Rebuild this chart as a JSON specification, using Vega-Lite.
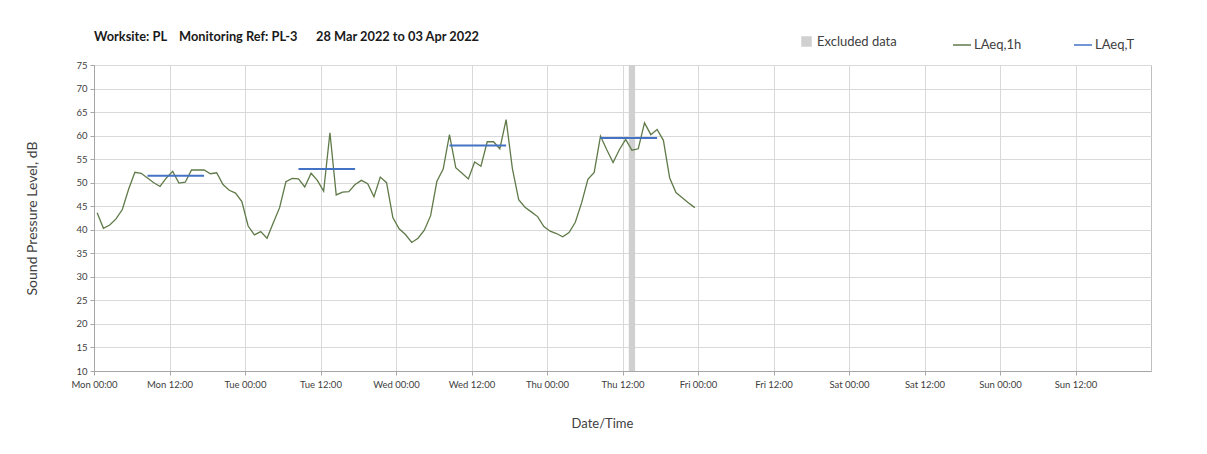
{
  "$schema": "https://vega.github.io/schema/vega-lite/v6.json",
  "width": 1057,
  "height": 306,
  "autosize": "none",
  "padding": {"left": 94, "top": 65, "right": 56, "bottom": 83},
  "background": "white",
  "title": {
    "text": "Worksite: PL\u00a0\u00a0\u00a0\u00a0Monitoring Ref: PL-3\u00a0\u00a0\u00a0\u00a0\u00a0\u00a028 Mar 2022 to 03 Apr 2022",
    "anchor": "start",
    "frame": "group",
    "font": "Lato",
    "fontSize": 12.8,
    "fontWeight": "bold",
    "color": "#1a1a1a",
    "offset": 22,
    "dy": 31
  },
  "config": {
    "view": {"stroke": "#bfbfbf", "strokeWidth": 1},
    "font": "Lato",
    "axis": {
      "labelFont": "Lato",
      "labelFontSize": 9.5,
      "labelColor": "#404040",
      "titleFont": "Lato",
      "titleFontWeight": "normal",
      "titleColor": "#404040",
      "gridColor": "#d9d9d9",
      "gridWidth": 1,
      "domainColor": "#a6a6a6",
      "tickColor": "#a6a6a6",
      "tickSize": 4
    },
    "legend": {
      "labelFont": "Lato",
      "labelFontSize": 13,
      "labelColor": "#404040"
    }
  },
  "encoding": {
    "x": {
      "field": "t", "type": "temporal",
      "scale": {"type": "utc", "domain": [1648425600000, 1649030400000]},
      "axis": {
        "title": "Date/Time",
        "titleFontSize": 13,
        "titlePadding": 29,
        "titleX": 508,
        "values": [1648425600000, 1648468800000, 1648512000000, 1648555200000, 1648598400000, 1648641600000, 1648684800000, 1648728000000, 1648771200000, 1648814400000, 1648857600000, 1648900800000, 1648944000000, 1648987200000],
        "labelExpr": "utcFormat(datum.value, '%a %H:%M')",
        "labelFlush": false,
        "labelPadding": 4,
        "grid": true
      }
    },
    "y": {
      "field": "v", "type": "quantitative",
      "scale": {"domain": [10, 75], "nice": false, "zero": false},
      "axis": {
        "title": "Sound Pressure Level, dB",
        "titleFontSize": 14,
        "titlePadding": 36,
        "values": [10, 15, 20, 25, 30, 35, 40, 45, 50, 55, 60, 65, 70, 75],
        "labelPadding": 3,
        "grid": true
      }
    }
  },
  "layer": [
    {
      "data": {"values": [{"t": "2022-03-31T13:00:00Z", "end": "2022-03-31T14:00:00Z", "top": 75, "bottom": 10}]},
      "mark": {"type": "rect", "opacity": 1},
      "encoding": {
        "x2": {"field": "end"},
        "y": {"field": "top", "type": "quantitative"},
        "y2": {"field": "bottom"},
        "fill": {
          "datum": "Excluded data",
          "scale": {"domain": ["Excluded data"], "range": ["#d0d0d0"]},
          "legend": {
            "title": null,
            "orient": "none",
            "direction": "horizontal",
            "legendX": 706,
            "legendY": -30,
            "symbolType": "square",
            "symbolSize": 110,
            "symbolOpacity": 1,
            "symbolStrokeWidth": 0,
            "labelOffset": 4
          }
        }
      }
    },
    {
      "data": {"values": [
        {"t": "2022-03-28T00:30:00Z", "v": 43.6},
        {"t": "2022-03-28T01:30:00Z", "v": 40.3},
        {"t": "2022-03-28T02:30:00Z", "v": 41.0},
        {"t": "2022-03-28T03:30:00Z", "v": 42.3},
        {"t": "2022-03-28T04:30:00Z", "v": 44.3},
        {"t": "2022-03-28T05:30:00Z", "v": 48.6},
        {"t": "2022-03-28T06:30:00Z", "v": 52.2},
        {"t": "2022-03-28T07:30:00Z", "v": 52.0},
        {"t": "2022-03-28T08:30:00Z", "v": 51.0},
        {"t": "2022-03-28T09:30:00Z", "v": 50.0},
        {"t": "2022-03-28T10:30:00Z", "v": 49.2},
        {"t": "2022-03-28T11:30:00Z", "v": 51.0},
        {"t": "2022-03-28T12:30:00Z", "v": 52.4},
        {"t": "2022-03-28T13:30:00Z", "v": 49.9},
        {"t": "2022-03-28T14:30:00Z", "v": 50.1},
        {"t": "2022-03-28T15:30:00Z", "v": 52.7},
        {"t": "2022-03-28T16:30:00Z", "v": 52.7},
        {"t": "2022-03-28T17:30:00Z", "v": 52.7},
        {"t": "2022-03-28T18:30:00Z", "v": 51.9},
        {"t": "2022-03-28T19:30:00Z", "v": 52.1},
        {"t": "2022-03-28T20:30:00Z", "v": 49.6},
        {"t": "2022-03-28T21:30:00Z", "v": 48.4},
        {"t": "2022-03-28T22:30:00Z", "v": 47.8},
        {"t": "2022-03-28T23:30:00Z", "v": 46.0},
        {"t": "2022-03-29T00:30:00Z", "v": 40.8},
        {"t": "2022-03-29T01:30:00Z", "v": 38.9},
        {"t": "2022-03-29T02:30:00Z", "v": 39.6},
        {"t": "2022-03-29T03:30:00Z", "v": 38.2},
        {"t": "2022-03-29T04:30:00Z", "v": 41.5},
        {"t": "2022-03-29T05:30:00Z", "v": 44.7},
        {"t": "2022-03-29T06:30:00Z", "v": 50.2},
        {"t": "2022-03-29T07:30:00Z", "v": 50.9},
        {"t": "2022-03-29T08:30:00Z", "v": 50.8},
        {"t": "2022-03-29T09:30:00Z", "v": 49.1},
        {"t": "2022-03-29T10:30:00Z", "v": 52.0},
        {"t": "2022-03-29T11:30:00Z", "v": 50.5},
        {"t": "2022-03-29T12:30:00Z", "v": 48.2},
        {"t": "2022-03-29T13:30:00Z", "v": 60.6},
        {"t": "2022-03-29T14:30:00Z", "v": 47.4},
        {"t": "2022-03-29T15:30:00Z", "v": 48.0},
        {"t": "2022-03-29T16:30:00Z", "v": 48.1},
        {"t": "2022-03-29T17:30:00Z", "v": 49.6},
        {"t": "2022-03-29T18:30:00Z", "v": 50.5},
        {"t": "2022-03-29T19:30:00Z", "v": 49.8},
        {"t": "2022-03-29T20:30:00Z", "v": 47.0},
        {"t": "2022-03-29T21:30:00Z", "v": 51.2},
        {"t": "2022-03-29T22:30:00Z", "v": 50.0},
        {"t": "2022-03-29T23:30:00Z", "v": 42.6},
        {"t": "2022-03-30T00:30:00Z", "v": 40.2},
        {"t": "2022-03-30T01:30:00Z", "v": 39.0},
        {"t": "2022-03-30T02:30:00Z", "v": 37.3},
        {"t": "2022-03-30T03:30:00Z", "v": 38.2},
        {"t": "2022-03-30T04:30:00Z", "v": 39.9},
        {"t": "2022-03-30T05:30:00Z", "v": 43.0},
        {"t": "2022-03-30T06:30:00Z", "v": 50.3},
        {"t": "2022-03-30T07:30:00Z", "v": 52.9},
        {"t": "2022-03-30T08:30:00Z", "v": 60.2},
        {"t": "2022-03-30T09:30:00Z", "v": 53.2},
        {"t": "2022-03-30T10:30:00Z", "v": 52.0},
        {"t": "2022-03-30T11:30:00Z", "v": 50.8},
        {"t": "2022-03-30T12:30:00Z", "v": 54.4},
        {"t": "2022-03-30T13:30:00Z", "v": 53.5},
        {"t": "2022-03-30T14:30:00Z", "v": 58.7},
        {"t": "2022-03-30T15:30:00Z", "v": 58.7},
        {"t": "2022-03-30T16:30:00Z", "v": 57.2},
        {"t": "2022-03-30T17:30:00Z", "v": 63.4},
        {"t": "2022-03-30T18:30:00Z", "v": 53.0},
        {"t": "2022-03-30T19:30:00Z", "v": 46.4},
        {"t": "2022-03-30T20:30:00Z", "v": 44.8},
        {"t": "2022-03-30T21:30:00Z", "v": 43.8},
        {"t": "2022-03-30T22:30:00Z", "v": 42.8},
        {"t": "2022-03-30T23:30:00Z", "v": 40.7},
        {"t": "2022-03-31T00:30:00Z", "v": 39.7},
        {"t": "2022-03-31T01:30:00Z", "v": 39.2},
        {"t": "2022-03-31T02:30:00Z", "v": 38.5},
        {"t": "2022-03-31T03:30:00Z", "v": 39.4},
        {"t": "2022-03-31T04:30:00Z", "v": 41.6},
        {"t": "2022-03-31T05:30:00Z", "v": 45.7},
        {"t": "2022-03-31T06:30:00Z", "v": 50.7},
        {"t": "2022-03-31T07:30:00Z", "v": 52.2},
        {"t": "2022-03-31T08:30:00Z", "v": 59.9},
        {"t": "2022-03-31T09:30:00Z", "v": 57.0},
        {"t": "2022-03-31T10:30:00Z", "v": 54.3},
        {"t": "2022-03-31T11:30:00Z", "v": 57.0},
        {"t": "2022-03-31T12:30:00Z", "v": 59.2},
        {"t": "2022-03-31T13:30:00Z", "v": 56.9},
        {"t": "2022-03-31T14:30:00Z", "v": 57.2},
        {"t": "2022-03-31T15:30:00Z", "v": 62.7},
        {"t": "2022-03-31T16:30:00Z", "v": 60.2},
        {"t": "2022-03-31T17:30:00Z", "v": 61.3},
        {"t": "2022-03-31T18:30:00Z", "v": 59.0},
        {"t": "2022-03-31T19:30:00Z", "v": 51.0},
        {"t": "2022-03-31T20:30:00Z", "v": 47.9},
        {"t": "2022-03-31T21:30:00Z", "v": 46.8},
        {"t": "2022-03-31T22:30:00Z", "v": 45.7},
        {"t": "2022-03-31T23:30:00Z", "v": 44.7}
      ]},
      "mark": {"type": "line", "strokeWidth": 1.3},
      "encoding": {
        "stroke": {
          "datum": "LAeq,1h",
          "scale": {"domain": ["LAeq,1h", "LAeq,T"], "range": ["#5f7a48", "#4472c4"]},
          "legend": {
            "title": null,
            "orient": "none",
            "direction": "horizontal",
            "legendX": 858,
            "legendY": -30,
            "symbolType": "stroke",
            "symbolSize": 324,
            "symbolStrokeWidth": 1.5,
            "labelOffset": 2,
            "columnPadding": 49
          }
        }
      }
    },
    {
      "data": {"values": [
        {"t": "2022-03-28T08:30:00Z", "v": 51.5, "day": "Mon"},
        {"t": "2022-03-28T17:30:00Z", "v": 51.5, "day": "Mon"},
        {"t": "2022-03-29T08:30:00Z", "v": 52.9, "day": "Tue"},
        {"t": "2022-03-29T17:30:00Z", "v": 52.9, "day": "Tue"},
        {"t": "2022-03-30T08:30:00Z", "v": 57.9, "day": "Wed"},
        {"t": "2022-03-30T17:30:00Z", "v": 57.9, "day": "Wed"},
        {"t": "2022-03-31T08:30:00Z", "v": 59.5, "day": "Thu"},
        {"t": "2022-03-31T17:30:00Z", "v": 59.5, "day": "Thu"}
      ]},
      "mark": {"type": "line", "strokeWidth": 2},
      "encoding": {
        "detail": {"field": "day"},
        "stroke": {"datum": "LAeq,T"}
      }
    }
  ]
}
